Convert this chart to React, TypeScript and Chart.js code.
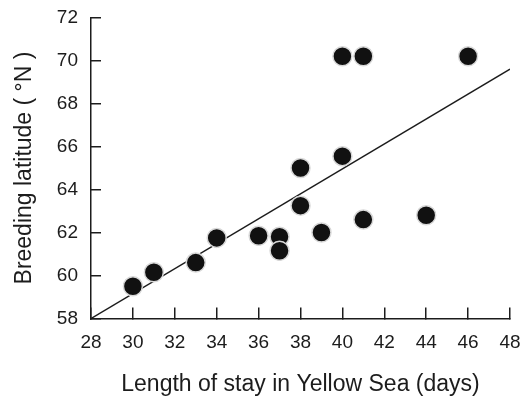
import React, { useEffect, useRef } from "react";
import { Chart, registerables } from "chart.js";

Chart.register(...registerables);

const stayDays = [30, 31, 33, 34, 36, 37, 37, 38, 38, 39, 40, 40, 41, 41, 44, 46];
const latitudes = [59.5, 60.15, 60.6, 61.75, 61.85, 61.8, 61.15, 63.25, 65.0, 62.0, 65.55, 70.2, 70.2, 62.6, 62.8, 70.2];
const fitX = [28, 48];
const fitY = [58, 69.6];
const xMin = 28, xMax = 48, xStep = 2;
const yMin = 58, yMax = 72, yStep = 2;
const xTitle = "Length of stay in Yellow Sea (days)";
const yTitle = "Breeding latitude ( \u00B0N )";

export default function App() {
  const ref = useRef<HTMLCanvasElement>(null);
  useEffect(() => {
    const ctx = ref.current!;
    const ink = "#1c1c1c";
    const font = "'Liberation Sans', Arial, sans-serif";
    const chart = new Chart(ctx, {
      type: "scatter",
      data: {
        datasets: [
          {
            type: "scatter",
            data: stayDays.map((x, i) => ({ x, y: latitudes[i] })),
            backgroundColor: "#111",
            borderColor: "#d8d8d8",
            borderWidth: 1.5,
            pointRadius: 9.5,
            pointHoverRadius: 9.5,
          },
          {
            type: "line",
            data: fitX.map((x, i) => ({ x, y: fitY[i] })),
            borderColor: ink,
            borderWidth: 1.5,
            pointRadius: 0,
            showLine: true,
            fill: false,
          },
        ],
      },
      options: {
        animation: false,
        responsive: false,
        maintainAspectRatio: false,
        layout: { padding: { top: 17.5, right: 10, left: 0, bottom: 0 } },
        plugins: { legend: { display: false }, tooltip: { enabled: false } },
        scales: {
          x: {
            type: "linear",
            min: xMin,
            max: xMax,
            ticks: { stepSize: xStep, color: ink, font: { family: font, size: 19 }, padding: 24, maxRotation: 0 },
            grid: { drawOnChartArea: false, drawTicks: true, tickLength: -11, color: ink, lineWidth: 1.5 },
            border: { display: true, color: ink, width: 1.5 },
            title: { display: true, text: xTitle, color: ink, font: { family: font, size: 23 }, padding: { top: 0, bottom: 0 } },
            afterFit: (s: any) => { s.height = 79.5; s.paddingLeft = 0; s.paddingRight = 0; },
          },
          y: {
            type: "linear",
            min: yMin,
            max: yMax,
            ticks: { stepSize: yStep, color: ink, font: { family: font, size: 19 }, padding: 23 },
            grid: { drawOnChartArea: false, drawTicks: true, tickLength: -10, color: ink, lineWidth: 1.5 },
            border: { display: true, color: ink, width: 1.5 },
            title: { display: true, text: yTitle, color: ink, font: { family: font, size: 23 }, padding: { top: 11, bottom: 0 } },
            afterFit: (s: any) => { s.width = 91; s.paddingTop = 0; s.paddingBottom = 0; },
          },
        },
      },
    });
    return () => chart.destroy();
  }, []);
  return (
    <div style={{ position: "fixed", left: 0, top: 0, width: 521, height: 398, background: "#fff" }}>
      <canvas ref={ref} width={521} height={398} />
    </div>
  );
}
